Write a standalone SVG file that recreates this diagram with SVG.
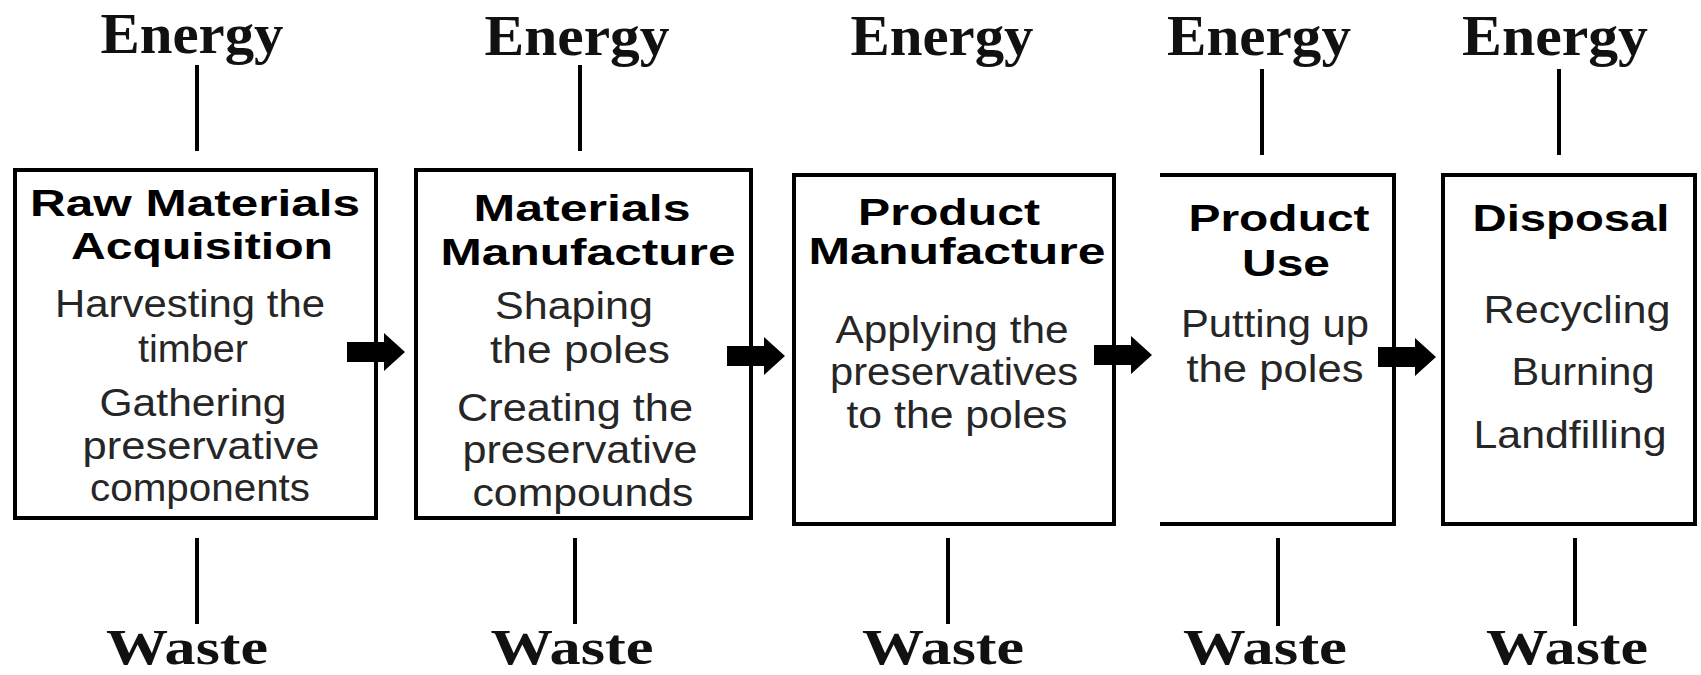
<svg xmlns="http://www.w3.org/2000/svg" xmlns:xlink="http://www.w3.org/1999/xlink" width="1701" height="675" viewBox="0 0 1701 675">
  <style>
    .box { fill: none; stroke: #000; stroke-width: 4; }
    .link { stroke: #000; stroke-width: 4; fill: none; }
    .flow { fill: #000; }
    .io { font-family: "Liberation Serif", "Times New Roman", serif; font-weight: bold; font-size: 56px; fill: #111; text-anchor: middle; }
    .waste { font-size: 50px; }
    .title { font-family: "Liberation Sans", Arial, sans-serif; font-weight: bold; font-size: 37px; fill: #000; text-anchor: middle; }
    .body { font-family: "Liberation Sans", Arial, sans-serif; font-size: 38px; fill: #262626; text-anchor: middle; }
  </style>
  <defs>
    <!-- short block arrow pointing right, origin at tail centre -->
    <path id="blockArrow" d="M0,-10 H37 V-19 L58,0 L37,19 V10 H0 Z"/>
  </defs>

  <rect width="1701" height="675" fill="#fff"/>

  <!-- energy inputs, waste outputs and flow arrows -->
  <g id="connectors">
    <line class="link" x1="197" y1="65" x2="197" y2="151"/>
    <line class="link" x1="580" y1="65" x2="580" y2="151"/>
    <line class="link" x1="1262" y1="69" x2="1262" y2="155"/>
    <line class="link" x1="1559" y1="69" x2="1559" y2="155"/>

    <line class="link" x1="197" y1="538" x2="197" y2="624"/>
    <line class="link" x1="575" y1="538" x2="575" y2="624"/>
    <line class="link" x1="948" y1="538" x2="948" y2="624"/>
    <line class="link" x1="1278" y1="538" x2="1278" y2="626"/>
    <line class="link" x1="1575" y1="538" x2="1575" y2="626"/>

    <use xlink:href="#blockArrow" class="flow" transform="translate(347,352)"/>
    <use xlink:href="#blockArrow" class="flow" transform="translate(727,356)"/>
    <use xlink:href="#blockArrow" class="flow" transform="translate(1094,355)"/>
    <use xlink:href="#blockArrow" class="flow" transform="translate(1378,357)"/>
  </g>

  <g id="energy-labels">
    <text class="io" x="192" y="53" textLength="183" lengthAdjust="spacingAndGlyphs">Energy</text>
    <text class="io" x="577" y="55" textLength="185" lengthAdjust="spacingAndGlyphs">Energy</text>
    <text class="io" x="942" y="55" textLength="183" lengthAdjust="spacingAndGlyphs">Energy</text>
    <text class="io" x="1259" y="55" textLength="184" lengthAdjust="spacingAndGlyphs">Energy</text>
    <text class="io" x="1555" y="55" textLength="186" lengthAdjust="spacingAndGlyphs">Energy</text>
  </g>

  <g id="waste-labels">
    <text class="io waste" x="187" y="664" textLength="162" lengthAdjust="spacingAndGlyphs">Waste</text>
    <text class="io waste" x="572" y="664" textLength="163" lengthAdjust="spacingAndGlyphs">Waste</text>
    <text class="io waste" x="943" y="664" textLength="162" lengthAdjust="spacingAndGlyphs">Waste</text>
    <text class="io waste" x="1265" y="664" textLength="164" lengthAdjust="spacingAndGlyphs">Waste</text>
    <text class="io waste" x="1567" y="664" textLength="162" lengthAdjust="spacingAndGlyphs">Waste</text>
  </g>

  <g id="raw-materials-acquisition">
    <rect class="box" x="15" y="170" width="361" height="348"/>
    <text class="title" x="195" y="216" textLength="330" lengthAdjust="spacingAndGlyphs">Raw Materials</text>
    <text class="title" x="202" y="259" textLength="262" lengthAdjust="spacingAndGlyphs">Acquisition</text>
    <text class="body" x="190" y="317" textLength="270" lengthAdjust="spacingAndGlyphs">Harvesting the</text>
    <text class="body" x="193" y="362" textLength="110" lengthAdjust="spacingAndGlyphs">timber</text>
    <text class="body" x="193" y="416" textLength="187" lengthAdjust="spacingAndGlyphs">Gathering</text>
    <text class="body" x="201" y="459" textLength="237" lengthAdjust="spacingAndGlyphs">preservative</text>
    <text class="body" x="200" y="501" textLength="220" lengthAdjust="spacingAndGlyphs">components</text>
  </g>

  <g id="materials-manufacture">
    <rect class="box" x="416" y="170" width="335" height="348"/>
    <text class="title" x="582" y="221" textLength="217" lengthAdjust="spacingAndGlyphs">Materials</text>
    <text class="title" x="588" y="265" textLength="295" lengthAdjust="spacingAndGlyphs">Manufacture</text>
    <text class="body" x="574" y="319" textLength="158" lengthAdjust="spacingAndGlyphs">Shaping</text>
    <text class="body" x="580" y="363" textLength="180" lengthAdjust="spacingAndGlyphs">the poles</text>
    <text class="body" x="575" y="421" textLength="236" lengthAdjust="spacingAndGlyphs">Creating the</text>
    <text class="body" x="580" y="463" textLength="235" lengthAdjust="spacingAndGlyphs">preservative</text>
    <text class="body" x="583" y="506" textLength="221" lengthAdjust="spacingAndGlyphs">compounds</text>
  </g>

  <g id="product-manufacture">
    <rect class="box" x="794" y="175" width="320" height="349"/>
    <text class="title" x="949" y="225" textLength="182" lengthAdjust="spacingAndGlyphs">Product</text>
    <text class="title" x="957" y="264" textLength="297" lengthAdjust="spacingAndGlyphs">Manufacture</text>
    <text class="body" x="952" y="343" textLength="233" lengthAdjust="spacingAndGlyphs">Applying the</text>
    <text class="body" x="954" y="385" textLength="248" lengthAdjust="spacingAndGlyphs">preservatives</text>
    <text class="body" x="957" y="428" textLength="221" lengthAdjust="spacingAndGlyphs">to the poles</text>
  </g>

  <g id="product-use">
    <!-- frame open on its left side -->
    <path class="box" d="M1160,175 H1394 V524 H1160"/>
    <text class="title" x="1279" y="231" textLength="181" lengthAdjust="spacingAndGlyphs">Product</text>
    <text class="title" x="1286" y="276" textLength="88" lengthAdjust="spacingAndGlyphs">Use</text>
    <text class="body" x="1275" y="337" textLength="188" lengthAdjust="spacingAndGlyphs">Putting up</text>
    <text class="body" x="1275" y="382" textLength="177" lengthAdjust="spacingAndGlyphs">the poles</text>
  </g>

  <g id="disposal">
    <rect class="box" x="1443" y="175" width="252" height="349"/>
    <text class="title" x="1571" y="231" textLength="197" lengthAdjust="spacingAndGlyphs">Disposal</text>
    <text class="body" x="1577" y="323" textLength="187" lengthAdjust="spacingAndGlyphs">Recycling</text>
    <text class="body" x="1583" y="385" textLength="143" lengthAdjust="spacingAndGlyphs">Burning</text>
    <text class="body" x="1570" y="448" textLength="193" lengthAdjust="spacingAndGlyphs">Landfilling</text>
  </g>
</svg>
